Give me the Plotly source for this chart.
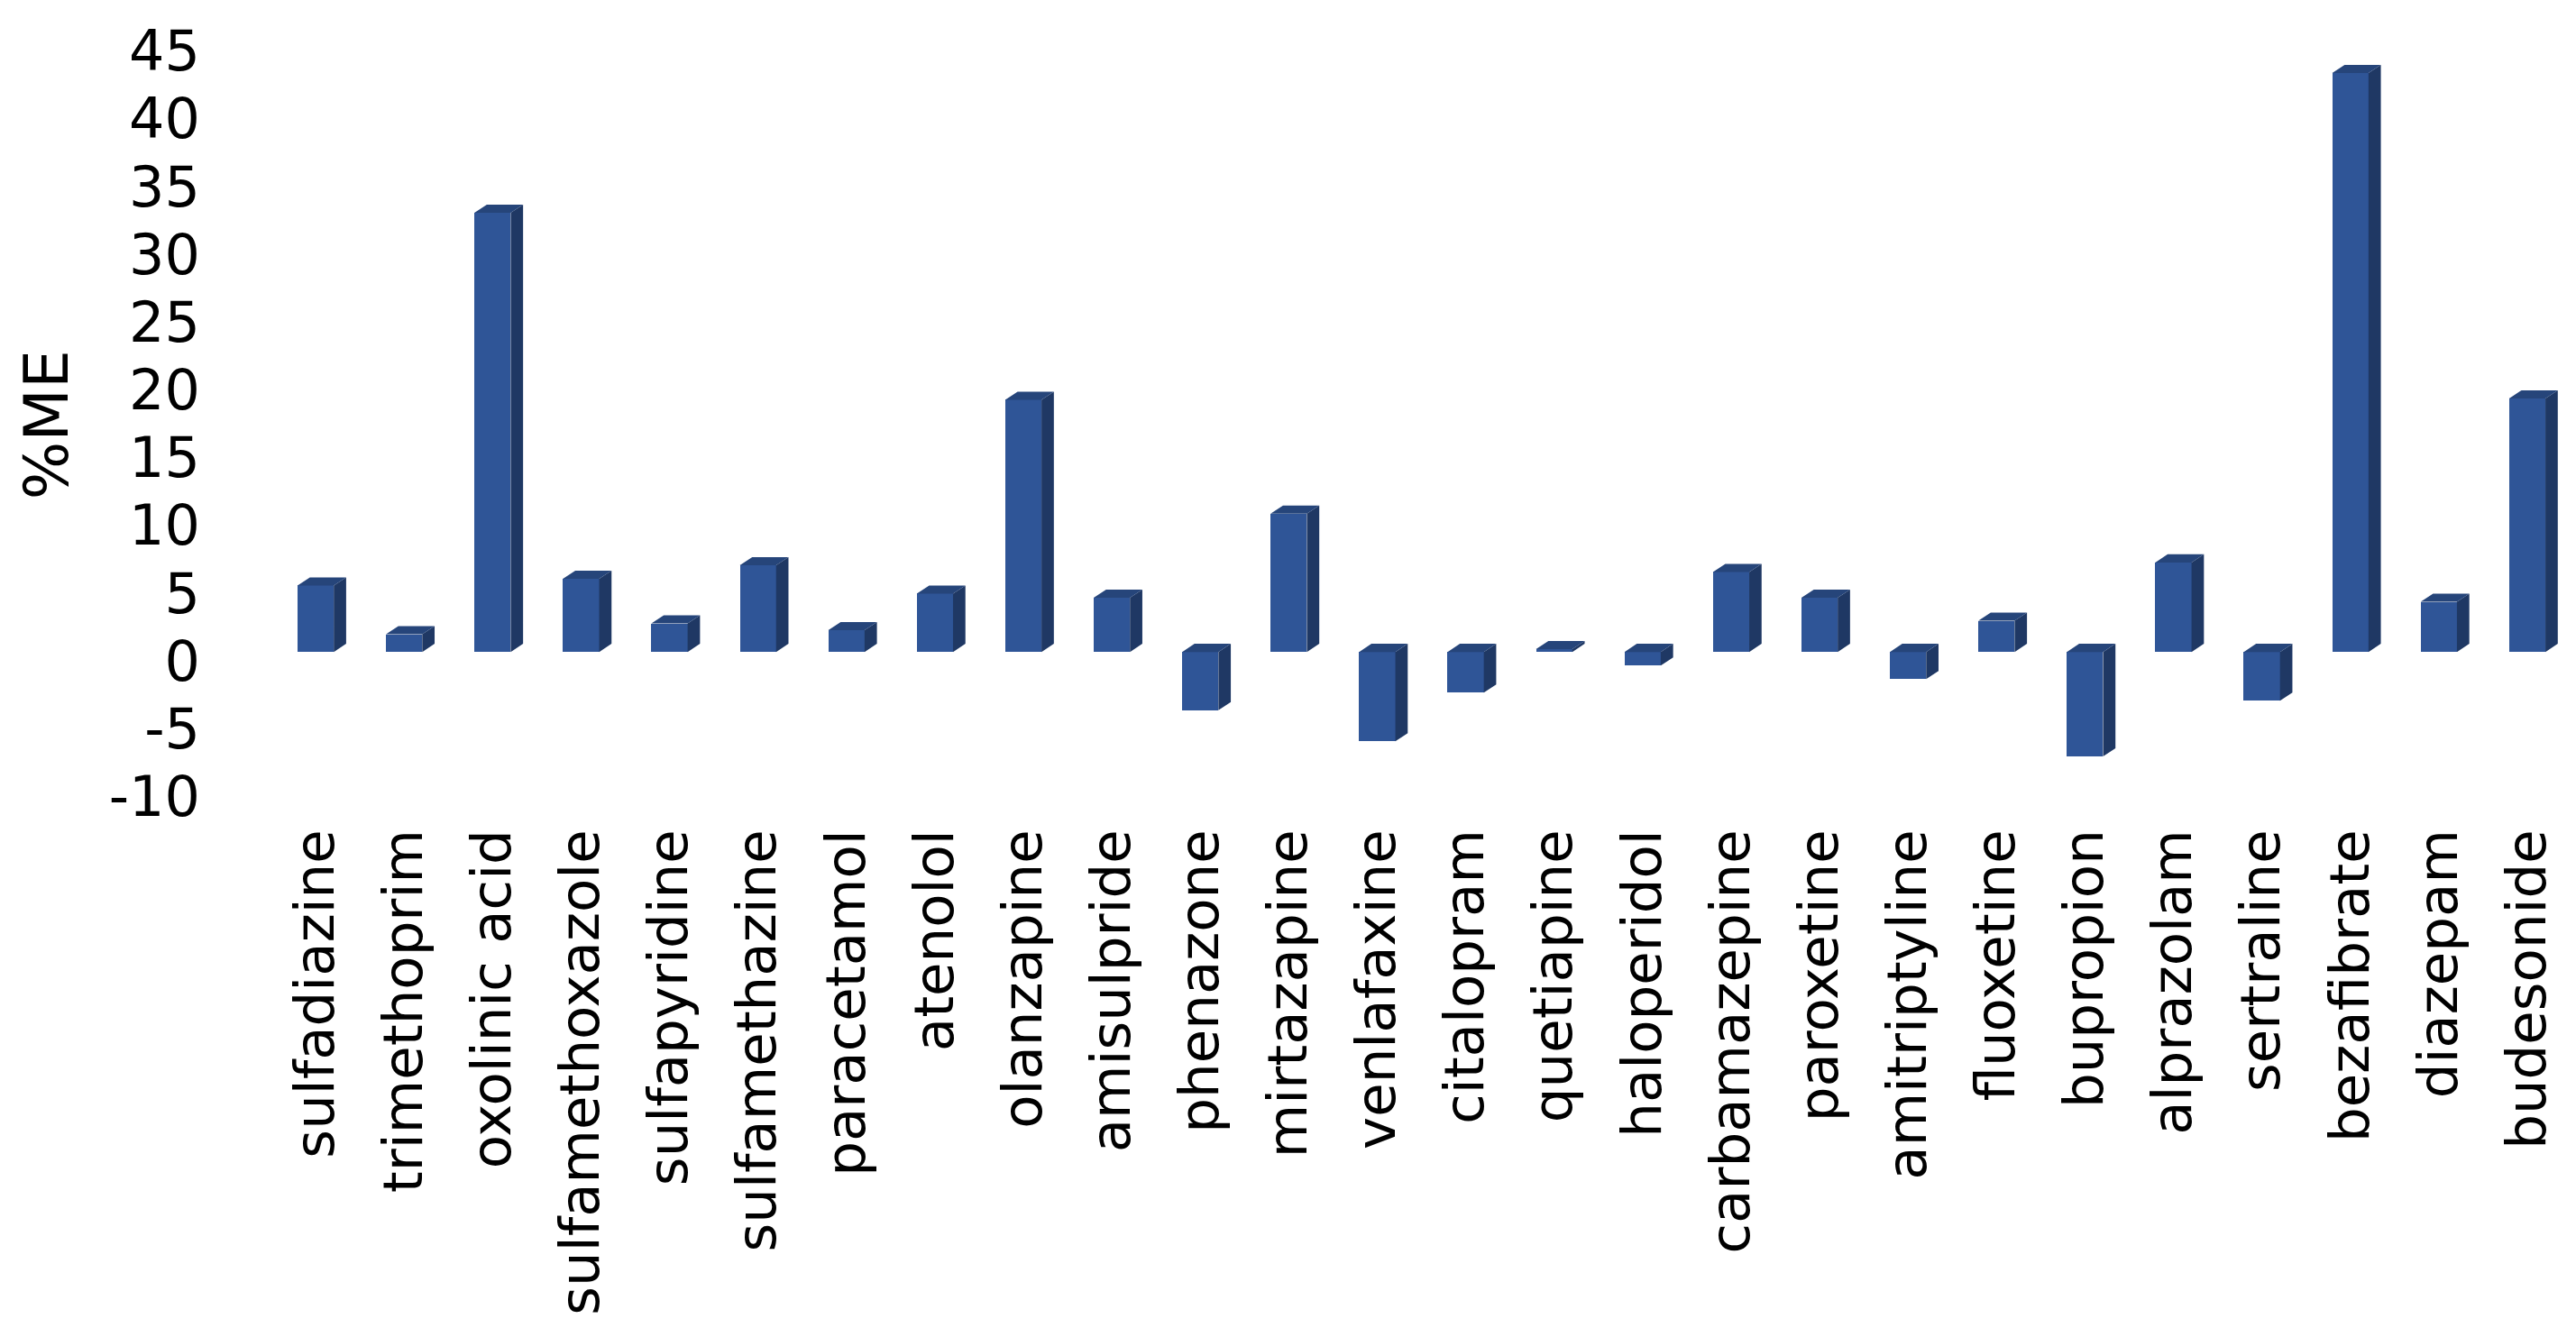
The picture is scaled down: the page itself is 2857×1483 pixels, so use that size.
import plotly.graph_objects as go

# ---- data ----
categories = ["sulfadiazine", "trimethoprim", "oxolinic acid", "sulfamethoxazole",
              "sulfapyridine", "sulfamethazine", "paracetamol", "atenolol",
              "olanzapine", "amisulpride", "phenazone", "mirtazapine",
              "venlafaxine", "citalopram", "quetiapine", "haloperidol",
              "carbamazepine", "paroxetine", "amitriptyline", "fluoxetine",
              "bupropion", "alprazolam", "sertraline", "bezafibrate",
              "diazepam", "budesonide"]
me_values = [4.9, 1.3, 32.4, 5.4, 2.1, 6.4, 1.6, 4.3, 18.6, 4.0,
             -4.3, 10.2, -6.6, -3.0, 0.2, -1.0, 5.9, 4.0, -2.0, 2.3,
             -7.7, 6.6, -3.6, 42.7, 3.7, 18.7]
y_ticks = [-10, -5, 0, 5, 10, 15, 20, 25, 30, 35, 40, 45]
y_tick_text = ["-10", "-5", "0", "5", "10", "15", "20", "25", "30", "35", "40", "45"]
y_title = "%ME"

# ---- style ----
W, H = 2857, 1483
FRONT = "#2F5597"
SIDE = "#1F3864"
TOP = "#26457A"
FONT = "DejaVu Sans"
bar_w = 0.41          # bar width in category units
dx = 0.14             # depth offset (x, category units)
dy = 0.6              # depth offset (y, data units)

xs = list(range(len(categories)))

side_x, side_y, top_x, top_y = [], [], [], []
for x, v in zip(xs, me_values):
    lo, hi = min(0, v), max(0, v)
    r = x + bar_w / 2
    l = x - bar_w / 2
    side_x += [r, r + dx, r + dx, r, r, None]
    side_y += [lo, lo + dy, hi + dy, hi, lo, None]
    top_x += [l, l + dx, r + dx, r, l, None]
    top_y += [hi, hi + dy, hi + dy, hi, hi, None]

fig = go.Figure()
fig.add_trace(go.Scatter(x=side_x, y=side_y, mode="lines", fill="toself",
                         fillcolor=SIDE, line=dict(width=0, color=SIDE),
                         hoverinfo="skip", showlegend=False))
fig.add_trace(go.Scatter(x=top_x, y=top_y, mode="lines", fill="toself",
                         fillcolor=TOP, line=dict(width=0, color=TOP),
                         hoverinfo="skip", showlegend=False))
fig.add_trace(go.Bar(x=xs, y=me_values, width=bar_w, marker=dict(color=FRONT, line=dict(width=0)),
                     showlegend=False))

fig.update_layout(
    width=W, height=H,
    margin=dict(l=293, r=13, t=27, b=613),
    paper_bgcolor="white", plot_bgcolor="white",
    font=dict(family=FONT, color="black"),
    xaxis=dict(range=[-0.5, len(categories) - 0.5], tickmode="array", tickvals=xs,
               ticktext=categories, tickangle=-90, showgrid=False, zeroline=False,
               showline=False, ticks="", tickfont=dict(size=61, family=FONT),
               ticklabelstandoff=29),
    yaxis=dict(range=[-10.3, 45.3], tickmode="array", tickvals=y_ticks,
               ticktext=y_tick_text,
               showgrid=False, zeroline=False, showline=False, ticks="",
               tickfont=dict(size=62, family=FONT), ticklabelstandoff=78,
               ticklabelshift=10),
    annotations=[dict(text=y_title, xref="paper", yref="paper", x=-0.098, y=0.4865,
                      textangle=-90, showarrow=False, xanchor="center", yanchor="middle",
                      font=dict(size=68, family=FONT, color="black"))],
    bargap=0,
)

fig.write_html("out.html")
